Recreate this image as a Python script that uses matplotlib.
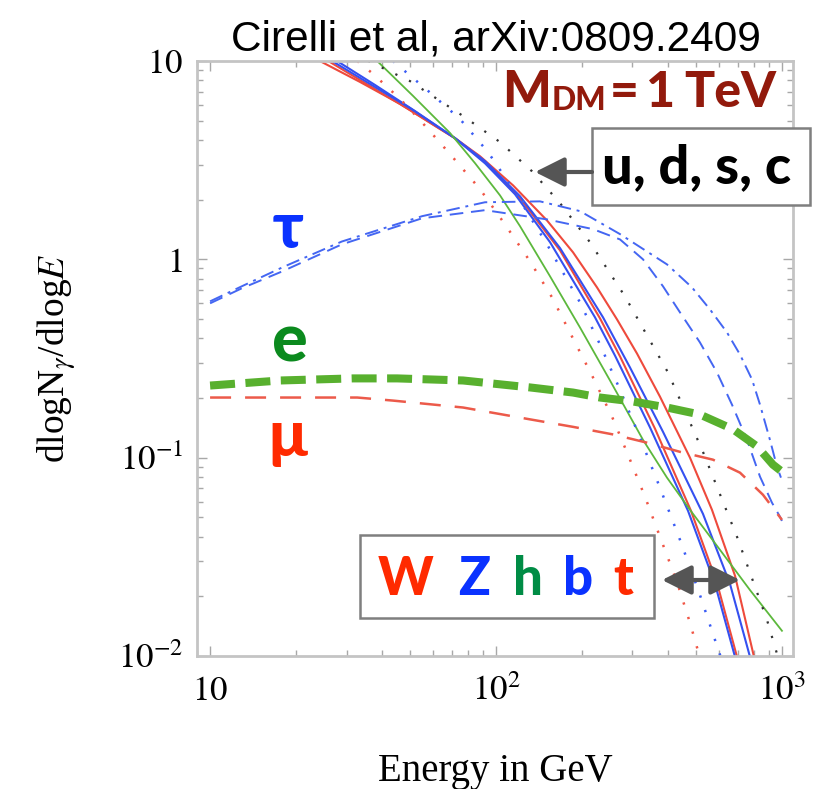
import matplotlib
matplotlib.use('Agg')
import matplotlib.pyplot as plt
from matplotlib.patches import Rectangle, FancyArrowPatch
from matplotlib.ticker import NullFormatter

plt.rcParams['font.family'] = ['Liberation Serif', 'DejaVu Serif']
plt.rcParams['mathtext.fontset'] = 'stix'

# gamma spectra dlogN/dlogE for M_DM = 1 TeV, energies in GeV
E_W = [24.2, 33.5, 46.2, 63.7, 71.9, 87.9, 114.7, 150.8, 185.9, 225.5, 264.9, 311.2, 374.5, 476.8, 569.1, 685.2, 798.4]
N_W = [10.0, 7.83, 6.07, 4.54, 4.08, 3.31, 2.36, 1.57, 1.085, 0.722, 0.498, 0.335, 0.203, 0.100, 0.0546, 0.0254, 0.0099]

E_t = [25.9, 36.3, 50.0, 71.9, 91.5, 121.3, 167.4, 231.0, 271.4, 359.7, 480.6, 592.5, 696.4]
N_t = [10.0, 7.47, 5.66, 4.08, 3.09, 2.03, 1.11, 0.504, 0.324, 0.140, 0.0540, 0.0234, 0.0099]

E_Z = [26.7, 36.3, 50.0, 71.9, 91.5, 121.3, 167.4, 236.7, 294.1, 383.7, 529.3, 658.1, 773.1]
N_Z = [10.0, 7.65, 5.79, 4.08, 3.13, 2.08, 1.14, 0.510, 0.285, 0.135, 0.0521, 0.0231, 0.0099]

E_b = [27.8, 37.8, 52.1, 71.9, 91.5, 116.5, 154.5, 221.9, 260.7, 345.6, 469.2, 583.1, 685.2]
N_b = [10.0, 7.56, 5.59, 4.08, 3.05, 2.13, 1.22, 0.510, 0.327, 0.142, 0.0540, 0.0231, 0.0099]

E_h = [38.4, 51.3, 69.1, 84.5, 103.3, 121.3, 154.5, 196.7, 250.4, 326.6, 396.2, 476.8, 607.1, 773.1, 1000.0]
N_h = [10.0, 6.66, 4.33, 3.05, 2.10, 1.47, 0.821, 0.453, 0.245, 0.123, 0.0793, 0.0546, 0.0343, 0.0215, 0.0134]

E_q = [35.7, 50.0, 76.7, 103.3, 133.6, 167.4, 213.1, 282.5, 399.4, 529.3, 696.4, 886.5, 976.0]
N_q = [10.0, 7.92, 5.28, 3.90, 2.78, 1.92, 1.22, 0.650, 0.269, 0.107, 0.0399, 0.0152, 0.0095]

E_dot_red = [32.7, 37.2, 46.2, 54.2, 69.1, 87.9, 107.5, 131.5, 157.0, 184.4, 218.3, 254.5, 289.4, 331.9, 374.5, 429.5, 476.8, 516.7]
N_dot_red = [10.0, 8.60, 6.43, 5.04, 3.39, 2.26, 1.50, 0.977, 0.643, 0.408, 0.254, 0.161, 0.1035, 0.0635, 0.0399, 0.0236, 0.0147, 0.0098]

E_dot_blue = [43.6, 57.4, 74.8, 93.8, 114.7, 150.8, 196.7, 231.0, 271.4, 318.9, 374.5, 440.0, 516.7, 611.9]
N_dot_blue = [10.0, 7.14, 5.10, 3.47, 2.26, 1.19, 0.606, 0.372, 0.220, 0.126, 0.0705, 0.0385, 0.0203, 0.0098]

E_tau1 = [10.0, 12.9, 17.9, 28.9, 55.1, 91.5, 150.8, 218.3, 271.4, 326.6, 383.7, 440.0, 516.7, 592.5, 668.8, 754.6, 838.0, 922.6, 984.0, 1000.0]
N_tau1 = [0.600, 0.714, 0.870, 1.19, 1.61, 1.77, 1.59, 1.42, 1.26, 1.00, 0.731, 0.540, 0.381, 0.269, 0.185, 0.123, 0.0802, 0.0593, 0.0504, 0.048]

E_tau2 = [10.0, 12.9, 17.9, 28.9, 55.1, 91.5, 142.5, 196.7, 271.4, 396.2, 484.5, 560.1, 642.3, 713.3, 785.7, 838.0, 907.8, 960.6, 992.0]
N_tau2 = [0.614, 0.731, 0.911, 1.23, 1.65, 1.94, 1.96, 1.75, 1.34, 0.943, 0.722, 0.559, 0.428, 0.331, 0.248, 0.185, 0.123, 0.0901, 0.0793]

E_e = [10.0, 17.6, 31.6, 45.1, 76.7, 131.5, 185.9, 231.0, 301.3, 396.2, 516.7, 674.3, 817.9, 930.1, 1000.0]
N_e = [0.231, 0.245, 0.251, 0.251, 0.245, 0.226, 0.213, 0.201, 0.192, 0.179, 0.165, 0.139, 0.114, 0.0922, 0.085]

E_mu = [10.0, 19.0, 32.7, 43.6, 76.7, 131.5, 185.9, 256.4, 337.3, 440.0, 573.7, 713.3, 858.2, 1000.0]
N_mu = [0.201, 0.201, 0.201, 0.194, 0.179, 0.156, 0.143, 0.131, 0.119, 0.107, 0.0977, 0.0840, 0.0650, 0.0486]

W, H = 823, 789


def fx(px):
    return px / W


def fy(py):
    return 1 - py / H


fig = plt.figure(figsize=(W / 100, H / 100), dpi=100)
ax = fig.add_axes([fx(197), fy(656), 596 / W, 595 / H])
ax.set_xscale('log')
ax.set_yscale('log')

red = '#ee4a3c'
blue = '#3550f0'
green = '#5cb83c'

ax.plot(E_W, N_W, color=red, lw=1.5)
ax.plot(E_t, N_t, color=red, lw=1.5)
ax.plot(E_Z, N_Z, color=blue, lw=1.5)
ax.plot(E_b, N_b, color=blue, lw=1.5)
ax.plot(E_h, N_h, color=green, lw=1.3)

ax.plot(E_dot_red, N_dot_red, color='#f05545', lw=1.8, ls=(0, (0.9, 5.2)))
ax.plot(E_dot_blue, N_dot_blue, color='#3a5cf5', lw=1.8, ls=(0, (0.9, 5.2)))
ax.plot(E_q, N_q, color='#333333', lw=1.6, ls=(0, (1.0, 5.8)))

ax.plot(E_tau1, N_tau1, color='#4466f2', lw=1.4, ls=(0, (7, 4)))
ax.plot(E_tau2, N_tau2, color='#4466f2', lw=1.4, ls=(0, (7, 3, 1.5, 3)))

ax.plot(E_e, N_e, color='#58b02e', lw=5.8, ls=(0, (3.1, 1.3)))
ax.plot(E_mu, N_mu, color='#ec5a4a', lw=1.8, ls=(0, (8.4, 5.6)))

ax.set_xlim(9.0, 1093)
ax.set_ylim(0.01, 10)

ax.set_xticks([10, 100, 1000])
ax.set_xticklabels([r'$10$', r'$10^2$', r'$10^3$'])
ax.set_yticks([0.01, 0.1, 1, 10])
ax.set_yticklabels([r'$10^{-2}$', r'$10^{-1}$', r'$1$', r'$10$'])
ax.xaxis.set_minor_formatter(NullFormatter())
ax.yaxis.set_minor_formatter(NullFormatter())
ax.tick_params(which='both', direction='in', top=True, right=True, color='#a8a8a8', width=1)
ax.tick_params(which='major', length=7, labelsize=25)
ax.tick_params(axis='x', which='major', pad=14)
ax.tick_params(axis='y', which='major', pad=10)
ax.tick_params(which='minor', length=4)
for s in ax.spines.values():
    s.set_color('#c4c4c4')
    s.set_linewidth(2)

ax.set_xlabel('Energy in GeV', fontsize=28)
ax.xaxis.set_label_coords(0.5, -0.163)
ax.set_ylabel(r'dlogN$_\gamma$/dlog$E$', fontsize=27)
ax.yaxis.set_label_coords(-0.2, 0.5)

fig.text(0.5 * (fx(232) + fx(760)), fy(50), 'Cirelli et al, arXiv:0809.2409',
         family='Liberation Sans', fontsize=30.5, ha='center', va='baseline')

bold = dict(family=['Lato', 'Noto Sans', 'DejaVu Sans'], fontweight='black')
renderer = fig.canvas.get_renderer()

# mass label, pieces set one after the other
dm = '#921a0c'
x = 502
for s, size, base, gap in [('M', 37, 107, 1), ('DM', 23, 110, 3), ('=', 36, 107, 8),
                           ('1', 36, 107, 9), ('TeV', 36, 107, 0)]:
    t = fig.text(x / W, fy(base), s, color=dm, fontsize=size, ha='left', va='baseline', **bold)
    x = t.get_window_extent(renderer).x1 + gap

# channel labels for the lepton lines
fig.text(fx(288), fy(248), '\u03c4', color='#0a32ff', fontsize=46, ha='center', va='baseline', **bold)
fig.text(fx(290), fy(362), 'e', color='#0b8a1e', fontsize=48, ha='center', va='baseline', **bold)
fig.text(fx(288), fy(456), '\u03bc', color='#ff2a00', fontsize=46, ha='center', va='baseline', **bold)

# boxes
box_kw = dict(transform=fig.transFigure, facecolor='white', edgecolor='#7f7f7f', lw=1.8, zorder=5)
fig.add_artist(Rectangle((fx(592), fy(205)), fx(810) - fx(592), fy(128) - fy(205), **box_kw))
fig.add_artist(Rectangle((fx(360), fy(618)), fx(654) - fx(360), fy(535) - fy(618), **box_kw))

fig.text(fx(602), fy(183), 'u, d, s, c', color='black', fontsize=39, ha='left', va='baseline',
         zorder=6, **bold)

letters = ['W', 'Z', 'h', 'b', 't']
letter_x = [378, 458, 513, 563, 613]
letter_c = ['#ff2a00', '#0a32ff', '#008c45', '#0a32ff', '#ff2a00']
for s, px, c in zip(letters, letter_x, letter_c):
    fig.text(fx(px), fy(595), s, color=c, fontsize=38, ha='left', va='baseline', zorder=6, **bold)

arrow = dict(color='#555555', lw=3, shrinkA=0, shrinkB=0, mutation_scale=20)
fig.add_artist(FancyArrowPatch(
    (fx(592), fy(172)), (fx(535), fy(172)), transform=fig.transFigure,
    arrowstyle='-|>,head_length=0.9,head_width=0.45', zorder=6, **arrow))
fig.add_artist(FancyArrowPatch(
    (fx(662), fy(580)), (fx(740), fy(580)), transform=fig.transFigure,
    arrowstyle='<|-|>,head_length=0.9,head_width=0.45', zorder=6, **arrow))

fig.savefig('out.png', dpi=100)
